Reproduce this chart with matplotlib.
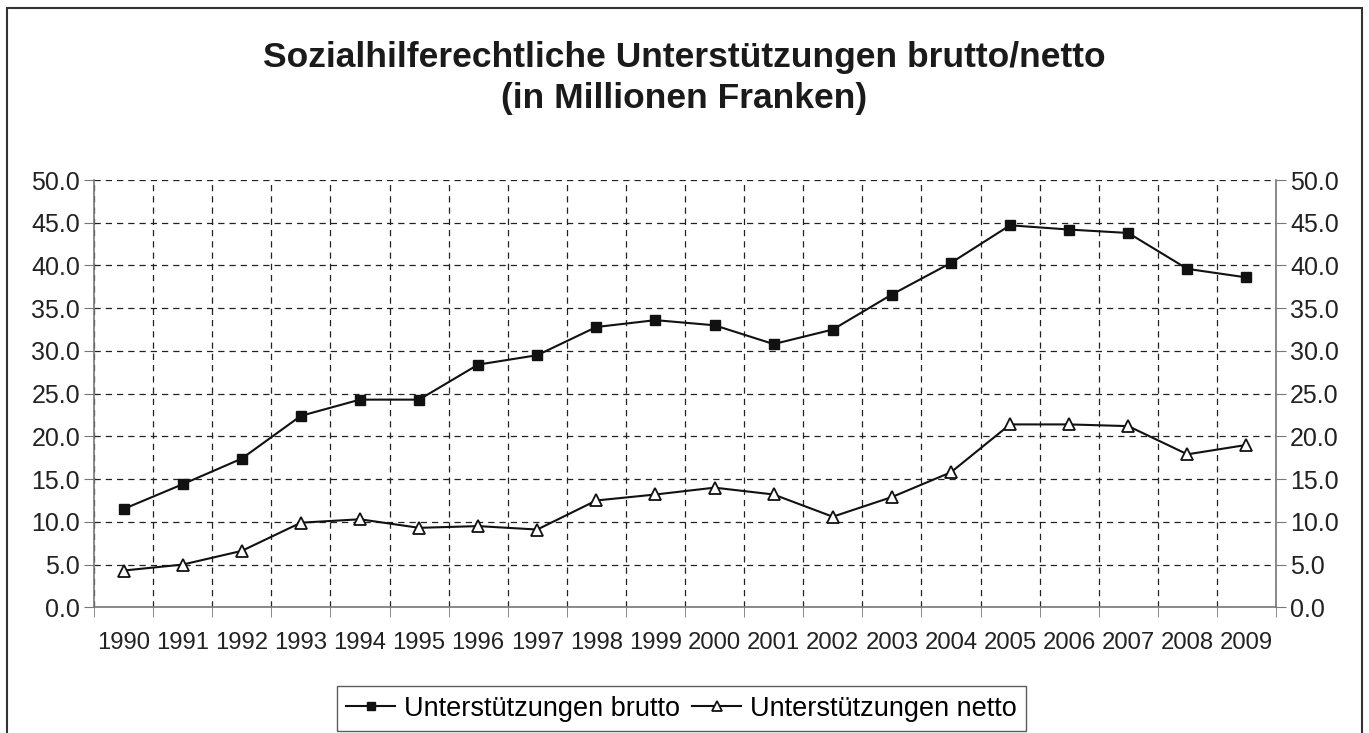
import matplotlib
matplotlib.use("Agg")
import matplotlib.pyplot as plt
from matplotlib.patches import Rectangle
from matplotlib.ticker import MultipleLocator, FixedLocator

years = [str(y) for y in range(1990, 2010)]
brutto = [11.5, 14.4, 17.4, 22.4, 24.3, 24.3, 28.4, 29.5, 32.8, 33.6,
          33.0, 30.8, 32.5, 36.6, 40.3, 44.7, 44.2, 43.8, 39.6, 38.6]
netto = [4.3, 5.0, 6.6, 9.9, 10.3, 9.3, 9.5, 9.1, 12.5, 13.2,
         14.0, 13.2, 10.6, 12.9, 15.8, 21.4, 21.4, 21.2, 17.9, 19.0]
title = "Sozialhilferechtliche Unterstützungen brutto/netto\n(in Millionen Franken)"
label_b = "Unterstützungen brutto"
label_n = "Unterstützungen netto"

plt.rcParams['font.family'] = ['Liberation Sans', 'DejaVu Sans']

fig = plt.figure(figsize=(13.69, 7.33), dpi=100)
ax = fig.add_axes([94/1369, 1-607.3/733, (1276-94)/1369, (607.3-180)/733])

x = list(range(len(years)))
ax.plot(x, brutto, color='#111111', lw=1.5, marker='s', ms=7.5,
        mfc='#111111', mec='#111111', label=label_b, zorder=3)
ax.plot(x, netto, color='#111111', lw=1.5, marker='^', ms=9,
        mfc='white', mec='#111111', mew=1.3, label=label_n, zorder=3)

ax.set_xlim(-0.5, len(years) - 0.5)
ax.set_ylim(0, 50)
ax.yaxis.set_major_locator(MultipleLocator(5))
ax.yaxis.set_major_formatter(matplotlib.ticker.FormatStrFormatter('%.1f'))
ax.set_xticks(x)
ax.set_xticklabels(years)
ax.tick_params(axis='x', which='major', length=0, pad=18, labelsize=17.2, colors='#222222')
ax.xaxis.set_minor_locator(FixedLocator([i - 0.5 for i in range(len(years) + 1)]))
ax.tick_params(axis='x', which='minor', length=7, color='#777777', direction='out')
ax.tick_params(axis='y', length=7, color='#777777', direction='out', labelsize=18,
               labelcolor='#222222', pad=3)
ax.tick_params(axis='y', which='both', right=True, labelright=True)

ax.grid(True, axis='y', which='major', ls=(0, (5, 4)), color='#222222', lw=0.9)
ax.grid(True, axis='x', which='minor', ls=(0, (5, 4)), color='#222222', lw=0.9)
ax.set_axisbelow(True)
ax.spines['top'].set_visible(False)
for s in ['left', 'right', 'bottom']:
    ax.spines[s].set_color('#777777')
    ax.spines[s].set_linewidth(1.2)

fig.text(0.5, 1 - 78/733, title, ha='center', va='center', fontsize=25.5,
         fontweight='bold', color='#1a1a1a', linespacing=1.3)

leg = fig.legend(loc='center', bbox_to_anchor=(681.5/1369, 1 - 708.5/733), ncol=2,
                 frameon=True, fancybox=False, edgecolor='#333333', fontsize=19.5,
                 handlelength=1.8, handletextpad=0.32, columnspacing=0.47,
                 borderpad=0.35, borderaxespad=0, markerscale=0.75)
leg.get_frame().set_linewidth(1.0)

fig.patches.append(Rectangle((7/1369, -0.05), (1362-7)/1369, 1 + 0.05 - 8/733,
                             transform=fig.transFigure, fill=False,
                             edgecolor='#333333', lw=1.5))

fig.savefig('out.png', dpi=100)
